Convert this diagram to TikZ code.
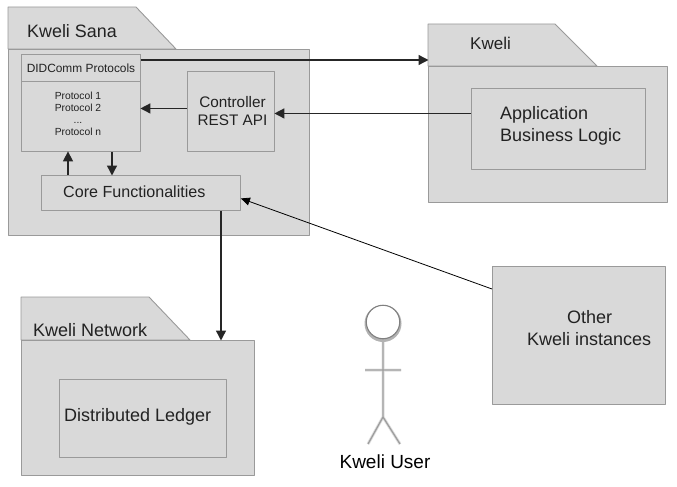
\documentclass[tikz,border=0pt]{standalone}
\usepackage{fontspec}
\setmainfont{Liberation Sans}
\usetikzlibrary{arrows.meta,shapes.misc}
\definecolor{pkgfill}{HTML}{D9D9D9}
\definecolor{pkgline}{HTML}{9A9A9A}
\definecolor{txt}{HTML}{222222}
\tikzset{
  x=1pt,y=-1pt,
  pkg/.style={draw=pkgline,fill=pkgfill,line width=0.9pt,line join=round},
  boxn/.style={pkg,inner sep=0pt,text=txt,align=center,anchor=north west},
  lab/.style={text=txt,inner sep=0pt,align=left},
  conn/.style={draw=black!85,line width=1.4pt,-{Triangle[length=10pt,width=10pt]},shorten >=-0.5pt},
  thin conn/.style={draw=black,line width=0.8pt,-{Triangle[length=9pt,width=8pt]}},
}
\newcommand{\boxat}[6]{\node[boxn,minimum width=#4-#2,minimum height=#5-#3] (#1) at (#2,#3) {#6};}
\begin{document}
\begin{tikzpicture}
\useasboundingbox (0,0) rectangle (677,487);
% Kweli Sana
\draw[pkg] (8,49) -- (8,7) -- (136,7) -- (176,49) -- cycle;
\boxat{sana}{8}{49}{309}{235}{}
\node[lab,font=\fontsize{17.9}{20}\selectfont,anchor=west] (sanal) at (27,31) {Kweli Sana};
\boxat{did}{21}{54}{140}{151}{}
\boxat{didh}{21}{54}{140}{81}{}
\node[lab,font=\fontsize{11.9}{14}\selectfont,anchor=center] (didl) at (81,68) {DIDComm Protocols};
\node[lab,font=\fontsize{10.3}{12}\selectfont,align=center,anchor=center] (prot) at (78,113.5) {Protocol 1\\Protocol 2\\...\\Protocol n};
\boxat{ctrl}{187}{71}{274}{151}{}
\node[lab,font=\fontsize{15.3}{18}\selectfont,align=center,anchor=center] (ctrll) at (232.5,111) {Controller\\REST API};
\boxat{core}{41}{175}{240}{210}{}
\node[lab,font=\fontsize{16.1}{18}\selectfont,anchor=west] (corel) at (63,191.5) {Core Functionalities};
% Kweli
\draw[pkg] (428,66) -- (428,24) -- (555,24) -- (597,66) -- cycle;
\boxat{kweli}{428}{66}{667}{202}{}
\node[lab,font=\fontsize{17}{20}\selectfont,anchor=west] (kwelil) at (470,43) {Kweli};
\boxat{app}{471}{88}{645}{169}{}
\node[lab,font=\fontsize{18}{22}\selectfont,anchor=west] (appl) at (500,126) {Application\\Business Logic};
% Network
\draw[pkg] (21,340) -- (21,297) -- (149,297) -- (190,340) -- cycle;
\boxat{net}{21}{340}{254}{475}{}
\node[lab,font=\fontsize{18}{20}\selectfont,anchor=west] (netl) at (33,330) {Kweli Network};
\boxat{ledger}{59}{379}{226}{457}{}
\node[lab,font=\fontsize{18}{20}\selectfont,anchor=west] (ledgerl) at (64,417) {Distributed Ledger};
% Others
\boxat{other}{492}{266}{665}{404}{}
\node[lab,font=\fontsize{18}{22}\selectfont,anchor=west] (otherl) at (527,328) {\hspace*{40pt}Other\\Kweli instances};
% User
\coordinate (neck) at (383,340);
\coordinate (hip) at (383,417);
\coordinate (armL) at (365,370);
\coordinate (armR) at (401,370);
\coordinate (footL) at (368,444);
\coordinate (footR) at (400,444);
\draw[black!12,line width=3pt] (neck) -- (hip) (armL) -- (armR) (footL) -- (hip) -- (footR);
\draw[black!38,line width=1.3pt] (neck) -- (hip) (armL) -- (armR) (footL) -- (hip) -- (footR);
\fill[black!30] (383,323.5) circle[radius=18.5];
\node[circle,draw=black!50,line width=1.1pt,fill=white,minimum size=33.5pt,inner sep=0pt] (head) at (383,322) {};
\node[lab,font=\fontsize{19}{22}\selectfont,text=black,anchor=center] (userl) at (385,462) {Kweli User};
% connectors
\draw[conn] ([yshift=-6]did.north east) -- ([yshift=6]kweli.north west);
\draw[conn] ([yshift=15.5]app.west) -- ([yshift=-2]ctrl.east);
\draw[conn] ([yshift=3]ctrl.west) -- ([yshift=-5.5]did.east);
\draw[conn] ([xshift=27]core.north west) -- ([xshift=47]did.south west);
\draw[conn] ([xshift=91]did.south west) -- ([xshift=71]core.north west);
\draw[conn] ([xshift=180]core.south west) -- ([xshift=200]net.north west);
\draw[thin conn] ([yshift=-23]other.north west) -- ([yshift=-5.5]core.east);
\end{tikzpicture}
\end{document}
